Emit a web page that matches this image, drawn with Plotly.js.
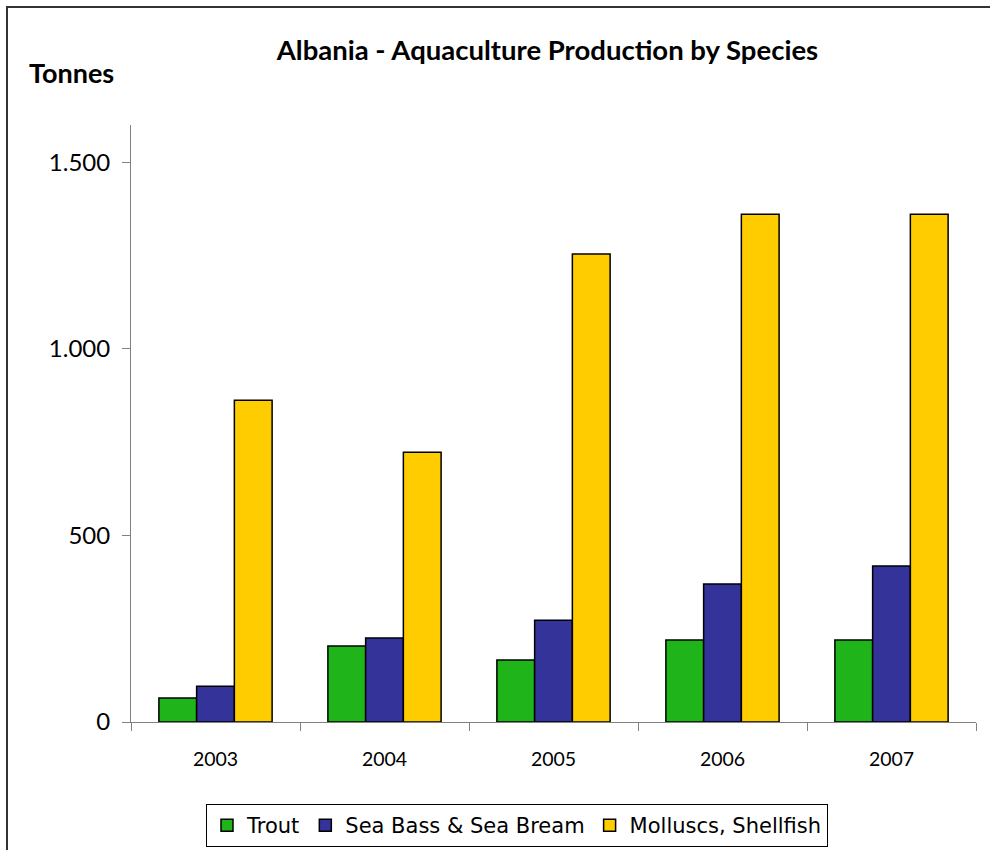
<!DOCTYPE html>
<html><head><meta charset="utf-8">
<script src="https://cdn.plot.ly/plotly-3.0.1.min.js"></script>
<style>html,body{margin:0;padding:0;background:#fff;}#chart{width:990px;height:850px;}</style>
</head><body><div id="chart"></div>
<script>
const years = ['2003','2004','2005','2006','2007'];
const trout = [64, 204, 166, 220, 220];
const seaBass = [96, 225, 273, 370, 418];
const molluscs = [862, 723, 1254, 1361, 1361];
const seriesNames = ['Trout', 'Sea Bass & Sea Bream', 'Molluscs, Shellfish'];
const colors = ['#1fb51a', '#333399', '#ffcc00'];

const font = 'Lato, "Open Sans", sans-serif';
const traces = [trout, seaBass, molluscs].map((v, i) => ({
  type: 'bar', x: years, y: v, name: seriesNames[i],
  marker: {color: colors[i], line: {color: '#000', width: 1.5}},
  hoverinfo: 'y'
}));

const L = 131, R = 14, T = 125, B = 128, W = 990, H = 850;
const pw = W - L - R, ph = H - T - B;
const px2x = p => (p - L) / pw;
const py2y = p => (H - B - p) / ph;

const layout = {
  width: W, height: H,
  margin: {l: L, r: R, t: T, b: B, autoexpand: false},
  paper_bgcolor: '#fff', plot_bgcolor: '#fff',
  separators: ',.',
  font: {family: font, color: '#000'},
  barmode: 'group', bargap: 0.33, bargroupgap: 0,
  title: {text: '<b>Albania - Aquaculture Production by Species</b>', font: {size: 27.5, family: font, color: '#000'},
          x: 0.553, xanchor: 'center', y: 1 - 50/H, yanchor: 'middle'},
  xaxis: {type: 'category', showgrid: false, showline: true, linecolor: '#808080', linewidth: 1,
          ticks: 'outside', tickson: 'boundaries', ticklen: 8, tickcolor: '#808080',
          ticklabelstandoff: 20,
          tickfont: {size: 19.5, family: font}, zeroline: false},
  yaxis: {range: [0, 1600], tickvals: [0, 500, 1000, 1500], tickformat: ',d', showgrid: false,
          showline: true, linecolor: '#808080', linewidth: 1, ticks: 'outside', ticklen: 8,
          ticklabelstandoff: 7,
          tickcolor: '#808080', tickfont: {size: 24, family: font}, zeroline: false},
  showlegend: true,
  legend: {orientation: 'h', x: px2x(517), xanchor: 'center', y: py2y(804), yanchor: 'top',
           bordercolor: '#000', borderwidth: 1, font: {size: 21, family: '"DejaVu Sans", sans-serif'}, itemwidth: 30,
           tracegroupgap: 0},
  annotations: [{text: '<b>Tonnes</b>', xref: 'paper', yref: 'paper', x: px2x(27), y: py2y(72),
                 xanchor: 'left', yanchor: 'middle', showarrow: false, font: {size: 27, family: font, color: '#000'}}],
  shapes: [{type: 'rect', xref: 'paper', yref: 'paper', x0: px2x(7), x1: px2x(1100), y0: py2y(7), y1: py2y(1000),
            line: {color: '#333', width: 2}, fillcolor: 'rgba(0,0,0,0)', layer: 'below'}]
};

Plotly.newPlot('chart', traces, layout, {displayModeBar: false, staticPlot: true});
</script></body></html>
